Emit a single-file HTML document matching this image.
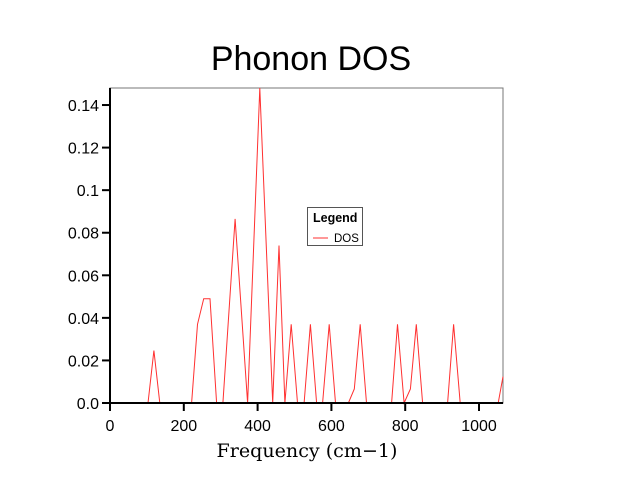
<!DOCTYPE html>
<html><head><meta charset="utf-8"><style>
html,body{margin:0;padding:0;background:#fff;}
svg{display:block;font-family:"Liberation Sans",Arial,sans-serif;}
</style></head><body>
<svg id="chart" width="644" height="491" viewBox="0 0 644 491">
<text x="311" y="70" text-anchor="middle" font-size="34" fill="#000">Phonon DOS</text>
<rect x="110" y="88" width="393" height="315" fill="none" stroke="#777" stroke-width="1"/>
<g id="grid-ticks"></g>
<polyline id="dos-line" fill="none" stroke="#ff3030" stroke-width="1"/>
<line x1="110" y1="88" x2="110" y2="404" stroke="#000" stroke-width="2"/>
<line x1="109" y1="403" x2="503" y2="403" stroke="#000" stroke-width="2"/>
<text x="307" y="457" text-anchor="middle" font-family="'DejaVu Serif','Liberation Serif',serif" font-size="19" textLength="181" lengthAdjust="spacingAndGlyphs">Frequency (cm−1)</text>
<g>
<rect x="307.5" y="207.5" width="55" height="38" fill="#fff" stroke="#555" stroke-width="1"/>
<text x="313" y="222" font-size="12.5" font-weight="600">Legend</text>
<line x1="313" y1="238" x2="328" y2="238" stroke="#ff3030" stroke-width="1"/>
<text x="334" y="242" font-size="11.5">DOS</text>
</g>
</svg>
<script>
const freqs = [0,103,119,135,221,237,254,271,289,306,339,373,406,441,458,474,491,508,526,543,560,576,594,611,646,662,678,695,763,779,797,814,830,847,915,931,949,1052,1065];
const dosValues = [0,0,0.0246,0,0,0.037,0.049,0.049,0,0,0.0865,0,0.148,0,0.074,0,0.037,0,0,0.037,0,0,0.037,0,0,0.0066,0.037,0,0,0.037,0,0.0066,0.037,0,0,0.037,0,0,0.0124];
const xTicks = [0,200,400,600,800,1000];
const yTicks = [0,0.02,0.04,0.06,0.08,0.1,0.12,0.14];
const yTickLabels = ["0.0","0.02","0.04","0.06","0.08","0.1","0.12","0.14"];
const xMin=0,xMax=1065,yMin=0,yMax=0.148;
const L=110,R=503,T=88,B=403;
function sx(v){return L+(v-xMin)/(xMax-xMin)*(R-L);}
function sy(v){return B-(v-yMin)/(yMax-yMin)*(B-T);}
const NS="http://www.w3.org/2000/svg";
const g=document.getElementById('grid-ticks');
xTicks.forEach(v=>{
  const l=document.createElementNS(NS,'line');
  l.setAttribute('x1',sx(v));l.setAttribute('x2',sx(v));l.setAttribute('y1',B);l.setAttribute('y2',B+8);
  l.setAttribute('stroke','#000');l.setAttribute('stroke-width','2');
  
  
  g.appendChild(l);
  const t=document.createElementNS(NS,'text');
  t.setAttribute('x',sx(v));t.setAttribute('y',431);t.setAttribute('text-anchor','middle');t.setAttribute('font-size','16');
  t.textContent=v;
  
  
  g.appendChild(t);
});
yTicks.forEach((v,i)=>{
  const l=document.createElementNS(NS,'line');
  l.setAttribute('x1',L-8);l.setAttribute('x2',L);l.setAttribute('y1',sy(v));l.setAttribute('y2',sy(v));
  l.setAttribute('stroke','#000');l.setAttribute('stroke-width','2');
  
  
  g.appendChild(l);
  const t=document.createElementNS(NS,'text');
  t.setAttribute('x',L-11);t.setAttribute('y',sy(v)+6);t.setAttribute('text-anchor','end');t.setAttribute('font-size','16');
  t.textContent=yTickLabels[i];
  
  
  g.appendChild(t);
});
document.getElementById('dos-line').setAttribute('points',freqs.map((f,i)=>sx(f).toFixed(1)+','+sy(dosValues[i]).toFixed(1)).join(' '));
</script>
</body></html>
